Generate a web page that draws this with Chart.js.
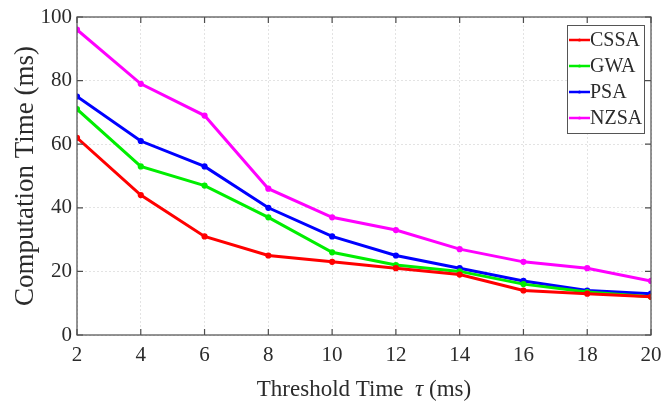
<!DOCTYPE html>
<html>
<head>
<meta charset="utf-8">
<script src="https://cdn.jsdelivr.net/npm/chart.js@4"></script>
<style>
  html, body { margin: 0; padding: 0; background: #fff; }
  #wrap { width: 662px; height: 402px; }
</style>
</head>
<body>
<div id="wrap"><canvas id="c"></canvas></div>
<script>
// threshold time tau (ms)
const thresholds = [2, 4, 6, 8, 10, 12, 14, 16, 18, 20];
const seriesNames = ['CSSA', 'GWA', 'PSA', 'NZSA'];
const cssa = [62, 44, 31, 25, 23, 21, 19, 14, 13, 12];
const gwa  = [71, 53, 47, 37, 26, 22, 20, 16, 13.5, 12];
const psa  = [75, 61, 53, 40, 31, 25, 21, 17, 14, 13];
const nzsa = [96, 79, 69, 46, 37, 33, 27, 23, 21, 17];
const yTicks = [0, 20, 40, 60, 80, 100];

const colors = ['#ff0000', '#00ee00', '#0000ff', '#ff00ff'];
const serif = "'Liberation Serif', 'Times New Roman', serif";
const textCol = '#2b2b2b';

const datasets = [cssa, gwa, psa, nzsa].map((vals, i) => ({
  label: seriesNames[i],
  data: vals.map((v, j) => ({ x: thresholds[j], y: v })),
  borderColor: colors[i],
  backgroundColor: colors[i],
  borderWidth: 3,
  pointRadius: 1.6,
  pointHoverRadius: 1.6,
  tension: 0
}));

// box + inward ticks like matlab
const frame = {
  id: 'frame',
  afterDatasetsDraw(chart) {
    const { ctx, chartArea: a, scales: { x, y } } = chart;
    ctx.save();
    ctx.strokeStyle = '#4d4d4d';
    ctx.lineWidth = 1.2;
    ctx.strokeRect(a.left, a.top, a.right - a.left, a.bottom - a.top);
    ctx.beginPath();
    for (const t of thresholds) {
      const px = x.getPixelForValue(t);
      ctx.moveTo(px, a.bottom); ctx.lineTo(px, a.bottom - 6);
      ctx.moveTo(px, a.top); ctx.lineTo(px, a.top + 6);
    }
    for (const t of yTicks) {
      const py = y.getPixelForValue(t);
      ctx.moveTo(a.left, py); ctx.lineTo(a.left + 6, py);
      ctx.moveTo(a.right, py); ctx.lineTo(a.right - 6, py);
    }
    ctx.stroke();

    // x title with italic tau
    const parts = [
      ['Threshold Time  ', 'normal'],
      ['τ', 'italic'],
      [' (ms)', 'normal']
    ];
    let total = 0;
    for (const [t, st] of parts) {
      ctx.font = st + ' 23px ' + serif;
      total += ctx.measureText(t).width;
    }
    let cx = (a.left + a.right) / 2 - total / 2;
    ctx.fillStyle = textCol;
    ctx.textBaseline = 'alphabetic';
    for (const [t, st] of parts) {
      ctx.font = st + ' 23px ' + serif;
      ctx.fillText(t, cx, 396);
      cx += ctx.measureText(t).width;
    }
    ctx.restore();
  }
};

// legend inside plot, top right
const boxLegend = {
  id: 'boxLegend',
  afterDraw(chart) {
    const { ctx, chartArea: a } = chart;
    const w = 77, h = 108;
    const left = a.right - 84, top = a.top + 8;
    ctx.save();
    ctx.fillStyle = '#fff';
    ctx.fillRect(left, top, w, h);
    ctx.strokeStyle = '#555';
    ctx.lineWidth = 1;
    ctx.strokeRect(left + 0.5, top + 0.5, w, h);
    ctx.font = '20px ' + serif;
    ctx.textBaseline = 'middle';
    chart.data.datasets.forEach((ds, i) => {
      const cy = top + 15 + i * 26;
      ctx.strokeStyle = ds.borderColor;
      ctx.lineWidth = 2.5;
      ctx.beginPath();
      ctx.moveTo(left + 2, cy); ctx.lineTo(left + 23, cy);
      ctx.stroke();
      ctx.fillStyle = ds.borderColor;
      ctx.beginPath();
      ctx.arc(left + 12.5, cy, 1.6, 0, Math.PI * 2);
      ctx.fill();
      ctx.fillStyle = textCol;
      ctx.fillText(ds.label, left + 23, cy + 1);
    });
    ctx.restore();
  }
};

new Chart(document.getElementById('c'), {
  type: 'line',
  data: { datasets },
  plugins: [frame, boxLegend],
  options: {
    responsive: true,
    maintainAspectRatio: false,
    animation: false,
    layout: { padding: { top: 17, right: 11, left: 0, bottom: 0 } },
    scales: {
      x: {
        type: 'linear', min: 2, max: 20,
        afterBuildTicks: (s) => { s.ticks = thresholds.map(v => ({ value: v })); },
        afterFit: (s) => { s.height = 67; s.paddingLeft = 0; s.paddingRight = 0; },
        grid: { color: '#e3e3e3', drawTicks: false },
        border: { display: false, dash: [2, 2] },
        ticks: { color: textCol, font: { family: serif, size: 21 }, padding: 8, maxRotation: 0 },
        title: { display: false }
      },
      y: {
        min: 0, max: 100,
        afterBuildTicks: (s) => { s.ticks = yTicks.map(v => ({ value: v })); },
        afterFit: (s) => { s.width = 77; s.paddingTop = 0; s.paddingBottom = 0; },
        grid: { color: '#e3e3e3', drawTicks: false },
        border: { display: false, dash: [2, 2] },
        ticks: { color: textCol, font: { family: serif, size: 21 }, padding: 5 },
        title: { display: true, text: 'Computation Time (ms)', color: textCol, font: { family: serif, size: 27 }, padding: { top: 10, bottom: 0 } }
      }
    },
    plugins: {
      legend: { display: false },
      tooltip: { enabled: false }
    }
  }
});
</script>
</body>
</html>
